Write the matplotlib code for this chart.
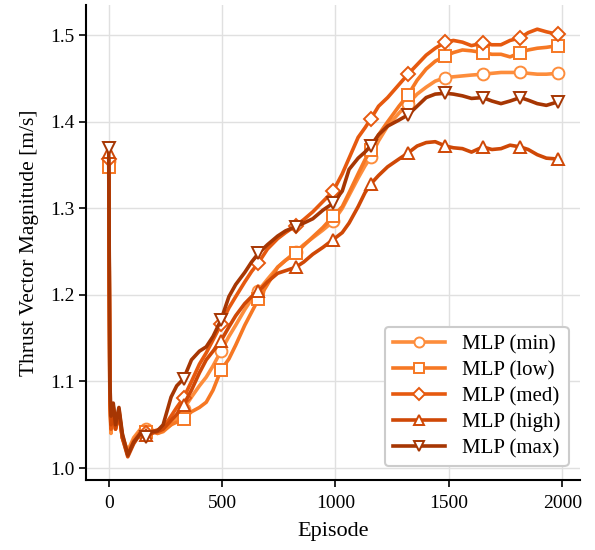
import matplotlib
matplotlib.use("Agg")
import matplotlib.pyplot as plt

plt.rcParams['font.family'] = ['Liberation Serif', 'DejaVu Serif']
plt.rcParams['mathtext.fontset'] = 'stix'

episodes = [0, 5, 10, 20, 30, 45, 60, 84, 110, 140, 165, 190, 215, 240, 275, 300, 330, 365, 400, 430,
            460, 495, 530, 560, 600, 630, 660, 700, 745, 780, 825, 860, 900, 945, 990, 1030, 1060, 1100,
            1130, 1155, 1190, 1230, 1280, 1320, 1360, 1400, 1440, 1485, 1520, 1560, 1600, 1650, 1690,
            1730, 1770, 1815, 1850, 1890, 1930, 1980]

mlp_min = [1.355, 1.075, 1.040, 1.068, 1.045, 1.062, 1.035, 1.020, 1.035, 1.045, 1.045, 1.044, 1.040, 1.042,
           1.050, 1.058, 1.068, 1.082, 1.095, 1.105, 1.118, 1.135, 1.152, 1.165, 1.183, 1.195, 1.205,
           1.218, 1.232, 1.240, 1.250, 1.258, 1.266, 1.275, 1.285, 1.300, 1.315, 1.335, 1.349, 1.359,
           1.378, 1.395, 1.410, 1.421, 1.432, 1.440, 1.447, 1.451, 1.452, 1.453, 1.454, 1.455, 1.456,
           1.457, 1.457, 1.457, 1.456, 1.455, 1.455, 1.456]
mlp_low = [1.348, 1.080, 1.045, 1.072, 1.048, 1.068, 1.038, 1.017, 1.032, 1.042, 1.042, 1.043, 1.040, 1.043,
           1.050, 1.053, 1.057, 1.065, 1.070, 1.076, 1.090, 1.113, 1.126, 1.142, 1.165, 1.180, 1.195,
           1.212, 1.232, 1.240, 1.248, 1.257, 1.267, 1.278, 1.291, 1.302, 1.318, 1.340, 1.356, 1.367,
           1.385, 1.400, 1.418, 1.431, 1.448, 1.461, 1.470, 1.476, 1.480, 1.483, 1.482, 1.480, 1.478,
           1.478, 1.475, 1.480, 1.483, 1.485, 1.486, 1.488]
mlp_med = [1.357, 1.085, 1.045, 1.070, 1.045, 1.065, 1.035, 1.015, 1.030, 1.040, 1.040, 1.042, 1.044, 1.046,
           1.060, 1.070, 1.081, 1.100, 1.120, 1.133, 1.148, 1.166, 1.185, 1.198, 1.215, 1.227, 1.237,
           1.253, 1.265, 1.272, 1.280, 1.287, 1.296, 1.308, 1.320, 1.340, 1.358, 1.382, 1.393, 1.403,
           1.418, 1.428, 1.443, 1.455, 1.466, 1.477, 1.485, 1.492, 1.494, 1.492, 1.488, 1.491, 1.489,
           1.489, 1.494, 1.497, 1.503, 1.507, 1.504, 1.501]
mlp_high = [1.365, 1.090, 1.050, 1.070, 1.045, 1.065, 1.035, 1.013, 1.028, 1.040, 1.038, 1.040, 1.042, 1.045,
            1.055, 1.062, 1.073, 1.090, 1.110, 1.125, 1.135, 1.147, 1.163, 1.176, 1.190, 1.198, 1.204,
            1.215, 1.225, 1.228, 1.232, 1.238, 1.247, 1.255, 1.264, 1.272, 1.283, 1.302, 1.318, 1.328,
            1.338, 1.348, 1.357, 1.364, 1.372, 1.376, 1.377, 1.372, 1.370, 1.369, 1.365, 1.371, 1.368,
            1.369, 1.373, 1.371, 1.368, 1.362, 1.358, 1.357]
mlp_max = [1.370, 1.100, 1.060, 1.075, 1.050, 1.070, 1.040, 1.015, 1.030, 1.040, 1.036, 1.042, 1.043, 1.050,
           1.082, 1.095, 1.103, 1.125, 1.135, 1.140, 1.152, 1.171, 1.198, 1.212, 1.226, 1.238, 1.248,
           1.258, 1.268, 1.274, 1.279, 1.283, 1.288, 1.298, 1.306, 1.320, 1.345, 1.358, 1.365, 1.372,
           1.385, 1.395, 1.402, 1.408, 1.418, 1.428, 1.432, 1.433, 1.432, 1.430, 1.427, 1.428, 1.424,
           1.421, 1.424, 1.428, 1.425, 1.421, 1.419, 1.423]

labels = ["MLP (min)", "MLP (low)", "MLP (med)", "MLP (high)", "MLP (max)"]
series = [mlp_min, mlp_low, mlp_med, mlp_high, mlp_max]
markers = ["o", "s", "D", "^", "v"]
colors = ["#fd8d3c", "#f67824", "#e6590f", "#cf4806", "#a63603"]
marker_eps = [0, 165, 330, 495, 660, 825, 990, 1155, 1320, 1485, 1650, 1815, 1980]
mark_idx = [episodes.index(e) for e in marker_eps]

fig = plt.figure(figsize=(5.95, 5.5), dpi=100)
ax = fig.add_axes([0.145, 0.127, 0.83, 0.864])

for y, lab, m, c in zip(series, labels, markers, colors):
    ms = 7 if m == "D" else 8.5
    ax.plot(episodes, y, color=c, lw=2.6, marker=m, markevery=mark_idx,
            markersize=ms, markerfacecolor="white", markeredgecolor=c,
            markeredgewidth=1.4, label=lab)

ax.set_xlim(-99, 2079)
ax.set_ylim(0.986, 1.535)
ax.set_xticks([0, 500, 1000, 1500, 2000])
ax.set_yticks([1.0, 1.1, 1.2, 1.3, 1.4, 1.5])
ax.grid(True, color="#e0e0e0", lw=1.0)
ax.set_axisbelow(True)
for s in ["top", "right"]:
    ax.spines[s].set_visible(False)
for s in ["left", "bottom"]:
    ax.spines[s].set_linewidth(1.5)
ax.tick_params(axis="both", labelsize=14, width=1.2, length=5, direction="out")
ax.tick_params(axis="x", pad=6)
ax.set_xlabel("Episode", fontsize=16, labelpad=7)
ax.set_ylabel("Thrust Vector Magnitude [m/s]", fontsize=15.5, labelpad=8)

leg = ax.legend(loc="lower right", fontsize=15, frameon=True, fancybox=True,
                edgecolor="#cccccc", framealpha=1.0, handlelength=2.5, borderpad=0.4,
                labelspacing=0.3, handletextpad=0.8, markerscale=0.85,
                borderaxespad=0.2, bbox_to_anchor=(0.985, 0.02))
leg.get_frame().set_linewidth(1.5)

fig.savefig("out.png", dpi=100)
